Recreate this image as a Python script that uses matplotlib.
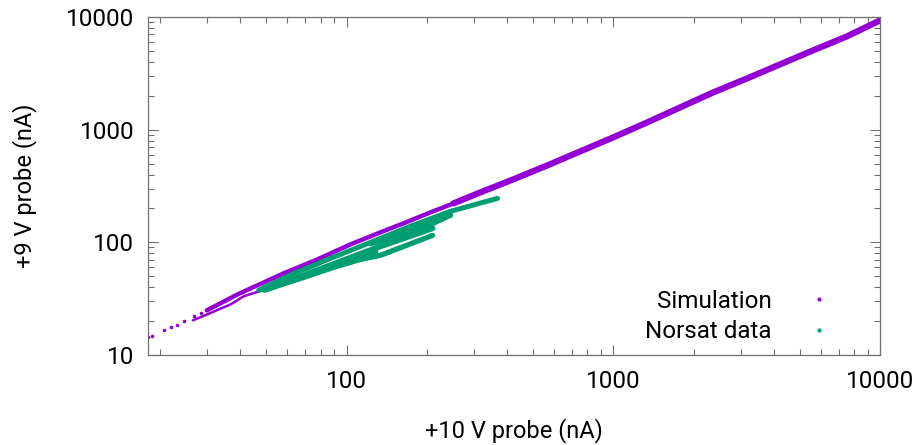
import matplotlib
matplotlib.use("Agg")
import matplotlib.pyplot as plt
from matplotlib.lines import Line2D
from matplotlib.ticker import LogLocator, NullFormatter, FixedLocator, FixedFormatter

plt.rcParams['font.family'] = ['Roboto', 'DejaVu Sans']

PURPLE = "#9400D3"
GREEN = "#009E73"

# Simulation: sparse dots at the low end
sim_dots_x = [18.0, 18.6, 20.6, 21.9, 23.1, 24.5, 26.7, 28.4, 29.9]
sim_dots_y = [14.4, 14.7, 16.6, 17.6, 18.4, 19.9, 22.0, 23.4, 24.9]

# Simulation: band, lower part (thinner)
sim_main_lo_x = [29.9, 39.1, 58.1, 77.8, 103.5, 134, 163.4, 206.4, 251.6]
sim_main_lo_y = [24.9, 34.6, 53.1, 70.6, 96.0, 122.7, 147.4, 184.6, 221.6]

# Simulation: band, upper part (thicker)
sim_main_hi_x = [251.6, 317.5, 422, 566, 752, 1000, 1340, 1782, 2371, 3177,
                 4217, 5610, 7516, 10000]
sim_main_hi_y = [221.6, 277.8, 362.5, 482, 642, 855, 1160, 1577, 2143, 2852,
                 3795, 5054, 6730, 9330]

# Simulation: secondary lower strand
sim_low_x = [26.5, 30.1, 36.8, 41.1, 61.7]
sim_low_y = [20.3, 23.0, 28.2, 33.2, 45.1]

# Norsat data strands
nor_top_x = [46.8, 61.7, 87.1, 123, 173.7, 245, 368]
nor_top_y = [37.5, 51.5, 72.1, 100, 139, 188.4, 245.6]
nor_upper_fill_x = [123, 159, 210, 245]
nor_upper_fill_y = [98, 115, 147.5, 175]
nor_mid_x = [49.0, 67.3, 95, 134, 210]
nor_mid_y = [38.0, 49.9, 67.8, 92.2, 133.2]
nor_lower_fill_x = [49.7, 67.3, 95, 122, 128]
nor_lower_fill_y = [38.2, 48.9, 64.5, 80, 82]
nor_low_x = [49.7, 67.3, 89.4, 112.8, 134, 210]
nor_low_y = [38.3, 47.9, 60.0, 70.6, 76.7, 115.3]

x_ticks = [100, 1000, 10000]
x_tick_labels = ["100", "1000", "10000"]
y_ticks = [10, 100, 1000, 10000]
y_tick_labels = ["10", "100", "1000", "10000"]

fig = plt.figure(figsize=(9.2, 4.45), dpi=100)
ax = fig.add_axes([148/920, 90/445, (880-148)/920, (355-17)/445])
ax.set_xscale("log")
ax.set_yscale("log")

# simulation
ax.plot(sim_dots_x, sim_dots_y, linestyle="none", marker="o", ms=2.6,
        mec="none", color=PURPLE, zorder=2)
ax.plot(sim_main_lo_x, sim_main_lo_y, color=PURPLE, lw=3.2, solid_capstyle="round",
        solid_joinstyle="round", zorder=2)
ax.plot(sim_main_hi_x, sim_main_hi_y, color=PURPLE, lw=4.5, solid_capstyle="round",
        solid_joinstyle="round", zorder=2)
ax.plot(sim_low_x, sim_low_y, color=PURPLE, lw=1.8, solid_capstyle="round", zorder=2)

# norsat
for xs, ys, lw in [(nor_top_x, nor_top_y, 3.6),
                   (nor_upper_fill_x, nor_upper_fill_y, 4.2),
                   (nor_mid_x, nor_mid_y, 4.2),
                   (nor_lower_fill_x, nor_lower_fill_y, 4.5),
                   (nor_low_x, nor_low_y, 3.8)]:
    ax.plot(xs, ys, color=GREEN, lw=lw, solid_capstyle="round",
            solid_joinstyle="round", zorder=3)

ax.set_xlim(18, 10000)
ax.set_ylim(10, 10000)

ax.xaxis.set_major_locator(FixedLocator(x_ticks))
ax.xaxis.set_major_formatter(FixedFormatter(x_tick_labels))
ax.yaxis.set_major_locator(FixedLocator(y_ticks))
ax.yaxis.set_major_formatter(FixedFormatter(y_tick_labels))
ax.xaxis.set_minor_locator(LogLocator(base=10, subs=range(2, 10), numticks=20))
ax.yaxis.set_minor_locator(LogLocator(base=10, subs=range(2, 10), numticks=20))
ax.xaxis.set_minor_formatter(NullFormatter())
ax.yaxis.set_minor_formatter(NullFormatter())

ax.tick_params(which="both", direction="in", top=True, right=True,
               color="#707070", width=0.8)
ax.tick_params(which="major", length=7, labelsize=17.5, pad=10)
ax.tick_params(axis="x", which="major", pad=11)
ax.tick_params(which="minor", length=4)
for s in ax.spines.values():
    s.set_color("#707070")
    s.set_linewidth(0.9)

ax.set_xlabel("+10 V probe (nA)", fontsize=17, labelpad=18)
ax.set_ylabel("+9 V probe (nA)", fontsize=17, labelpad=21)

handles = [Line2D([], [], linestyle="none", marker="o", ms=3, mec="none", color=PURPLE),
           Line2D([], [], linestyle="none", marker="o", ms=3, mec="none", color=GREEN)]
ax.legend(handles, ["Simulation", "Norsat data"], loc="lower right",
          bbox_to_anchor=(0.957, -0.015), frameon=False, markerfirst=False,
          fontsize=17.5, handlelength=1.0, handletextpad=1.45, labelspacing=0.3,
          borderpad=0.2)

fig.savefig("out.png", dpi=100)
